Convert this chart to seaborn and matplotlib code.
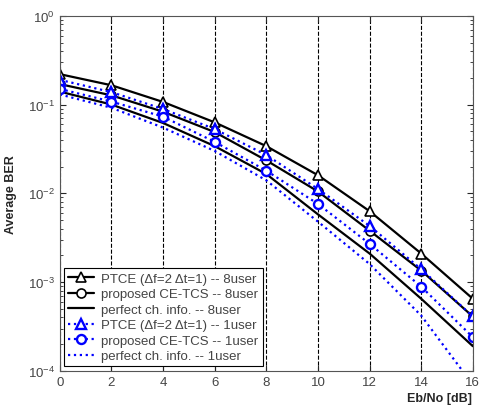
import numpy as np
import pandas as pd
import matplotlib
matplotlib.use("Agg")
import matplotlib.pyplot as plt
import seaborn as sns

sns.set_style("ticks")
plt.rcParams["font.family"] = ["Liberation Sans", "DejaVu Sans"]

# ── data ──────────────────────────────────────────────────────────────────────
ebno = [0, 2, 4, 6, 8, 10, 12, 14, 16]

ptce_8    = [0.22, 0.165, 0.107, 0.063, 0.034, 0.0160, 0.0063, 0.0021, 0.00065]
cetcs_8   = [0.170, 0.127, 0.083, 0.049, 0.0235, 0.0105, 0.0038, 0.00135, 0.00041]
perfect_8 = [0.140, 0.100, 0.062, 0.034, 0.0165, 0.0058, 0.0021, 0.00065, 0.00019]
ptce_1    = [0.190, 0.138, 0.089, 0.053, 0.027, 0.0112, 0.0043, 0.0014, 0.00041]
cetcs_1   = [0.150, 0.108, 0.073, 0.038, 0.018, 0.0076, 0.0027, 0.00089, 0.00024]
perfect_1 = [0.130, 0.092, 0.055, 0.030, 0.0140, 0.0048, 0.0016, 0.00042, 0.00007]

labels = [
    "PTCE (\u0394f=2 \u0394t=1) -- 8user",
    "proposed CE-TCS -- 8user",
    "perfect ch. info. -- 8user",
    "PTCE (\u0394f=2 \u0394t=1) -- 1user",
    "proposed CE-TCS -- 1user",
    "perfect ch. info. -- 1user",
]
series = [ptce_8, cetcs_8, perfect_8, ptce_1, cetcs_1, perfect_1]

# style per series: colour, linestyle, marker
styles = [
    ("black", "-", "^"),
    ("black", "-", "o"),
    ("black", "-", None),
    ("#0000ff", ":", "^"),
    ("#0000ff", ":", "o"),
    ("#0000ff", ":", None),
]

df = pd.DataFrame({
    "ebno": ebno * len(series),
    "ber": np.concatenate(series),
    "curve": np.repeat(labels, len(ebno)),
})

# ── plot ──────────────────────────────────────────────────────────────────────
fig = plt.figure(figsize=(4.79, 4.10), dpi=100)
ax = fig.add_axes([0.125, 0.093, 0.862, 0.866])

for lab, (col, ls, mk) in zip(labels, styles):
    sns.lineplot(
        data=df[df["curve"] == lab], x="ebno", y="ber", ax=ax,
        color=col, linestyle=ls, linewidth=1.6,
        marker=mk, markersize=6.5, markerfacecolor="white",
        markeredgecolor=col, markeredgewidth=1.2 if col == "black" else 1.7,
        label=lab,
    )

ax.set_yscale("log")
ax.set_xlim(0, 16)
ax.set_ylim(1e-4, 1)
ax.set_xticks(ebno)
ax.xaxis.grid(True, color="black", linestyle="--", linewidth=0.8)
ax.yaxis.grid(False)

ax.tick_params(which="both", direction="in", top=True, right=True,
               labelsize=9.5, labelcolor="#444444")
ax.tick_params(which="major", length=4)
ax.tick_params(which="minor", length=2)
for s in ax.spines.values():
    s.set_color("#555555")
    s.set_linewidth(0.8)

ax.set_ylabel("Average BER", fontsize=9, fontweight="bold", labelpad=8)
ax.set_xlabel("Eb/No [dB]", fontsize=9, fontweight="bold")
ax.xaxis.set_label_coords(0.92, -0.06)

leg = ax.legend(loc="lower left", fontsize=9.5, frameon=True, fancybox=False,
                handlelength=1.9, borderpad=0.3, labelspacing=0.25,
                handletextpad=0.6, borderaxespad=0.35, framealpha=1)
leg.get_frame().set_edgecolor("black")
leg.get_frame().set_linewidth(0.8)
for t in leg.get_texts():
    t.set_color("#444444")

fig.savefig("out.png", dpi=100)
